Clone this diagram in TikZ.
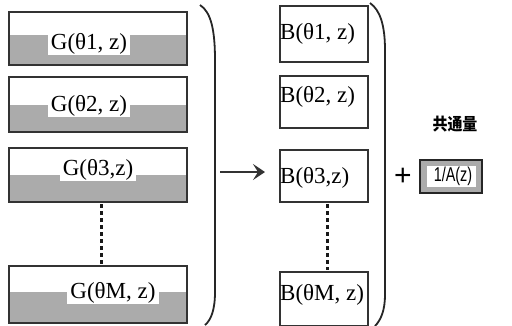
\documentclass[tikz,border=0pt]{standalone}
\usepackage{fontspec}
\setmainfont{Liberation Serif}
\setsansfont{Liberation Sans}
\newfontfamily\cjk{Noto Sans CJK SC}
\usetikzlibrary{arrows.meta}
\tikzset{
  gbox/.style={draw=black!80, line width=2.2pt},
  bbox/.style={draw=black!80, line width=1.8pt},
  strip/.style={fill=black!33},
  glabel/.style={fill=white, inner xsep=3pt, inner ysep=1pt, font=\fontsize{23}{23}\selectfont},
  blabel/.style={anchor=west, inner sep=0pt, font=\fontsize{23}{23}\selectfont},
  dots/.style={draw=black!90, line width=3pt, dash pattern=on 4pt off 3pt},
  paren/.style={draw=black!85, line width=1.8pt},
}
\begin{document}
\begin{tikzpicture}[x=1pt, y=-1pt]
\useasboundingbox (0,0) rectangle (512,325);

% G boxes: shaded lower strip with the label cut out in white
\fill[strip] (9,35) rectangle (187,65);
\node[glabel] (g1) at (89,44) {G(θ1, z)};
\draw[gbox] (9,12) rectangle (187,65);

\fill[strip] (9,105) rectangle (187,132);
\node[glabel] (g2) at (89,106) {G(θ2, z)};
\draw[gbox] (9,77) rectangle (187,132);

\fill[strip] (9,175) rectangle (187,202);
\node[glabel] (g3) at (98,170) {G(θ3,z)};
\draw[gbox] (9,148) rectangle (187,202);

\fill[strip] (9,292) rectangle (187,323);
\node[glabel] (gm) at (113,293) {G(θM, z)};
\draw[gbox] (9,266) rectangle (187,323);

\coordinate (gdA) at (101,204);
\coordinate (gdB) at (101,265);
\draw[dots] (gdA) -- (gdB);

% left bracket
\draw[paren] (200,5) .. controls (211,12) and (215,30) .. (215,60) -- (215,292)
  .. controls (215,310) and (211,320) .. (205,325);

% arrow
\coordinate (aS) at (220,172);
\coordinate (aE) at (265,172);
\draw[black!80, line width=1.8pt, -{Stealth[length=12pt, width=16pt, inset=5pt]}] (aS) -- (aE);

% B boxes
\draw[bbox] (280,6) rectangle (368,62);
\node[blabel] (b1) at (280,34) {B(θ1, z)};
\draw[bbox] (280,76) rectangle (368,128);
\node[blabel] (b2) at (280,97) {B(θ2, z)};
\draw[bbox] (280,150) rectangle (368,202);
\node[blabel] (b3) at (280,178) {B(θ3,z)};
\draw[bbox] (280,272) rectangle (368,326);
\node[blabel] (bm) at (280,295) {B(θM, z)};

\coordinate (bdA) at (327,204);
\coordinate (bdB) at (327,270);
\draw[dots] (bdA) -- (bdB);

% right bracket
\draw[paren] (370,3) .. controls (380,10) and (385,25) .. (385,50) -- (385,295)
  .. controls (385,310) and (381,320) .. (375,326);

% plus sign
\node[font=\sffamily\fontsize{30}{30}\selectfont, inner sep=0pt] (plus) at (403,177) {+};

% common term box
\fill[black!33] (420,160) rectangle (482,193);
\fill[white] (427,166) rectangle (476,187);
\draw[draw=black!85, line width=2.2pt] (420,160) rectangle (482,193);
\node[font=\sffamily\fontsize{20}{20}\selectfont, inner sep=0pt] (ainv) at (453,176.5) {\scalebox{0.72}[1]{1/A(z)}};
\node[font=\cjk\bfseries\fontsize{17}{17}\selectfont, inner sep=0pt] (common) at (455,124) {\scalebox{0.88}[1]{共通量}};
\end{tikzpicture}
\end{document}
